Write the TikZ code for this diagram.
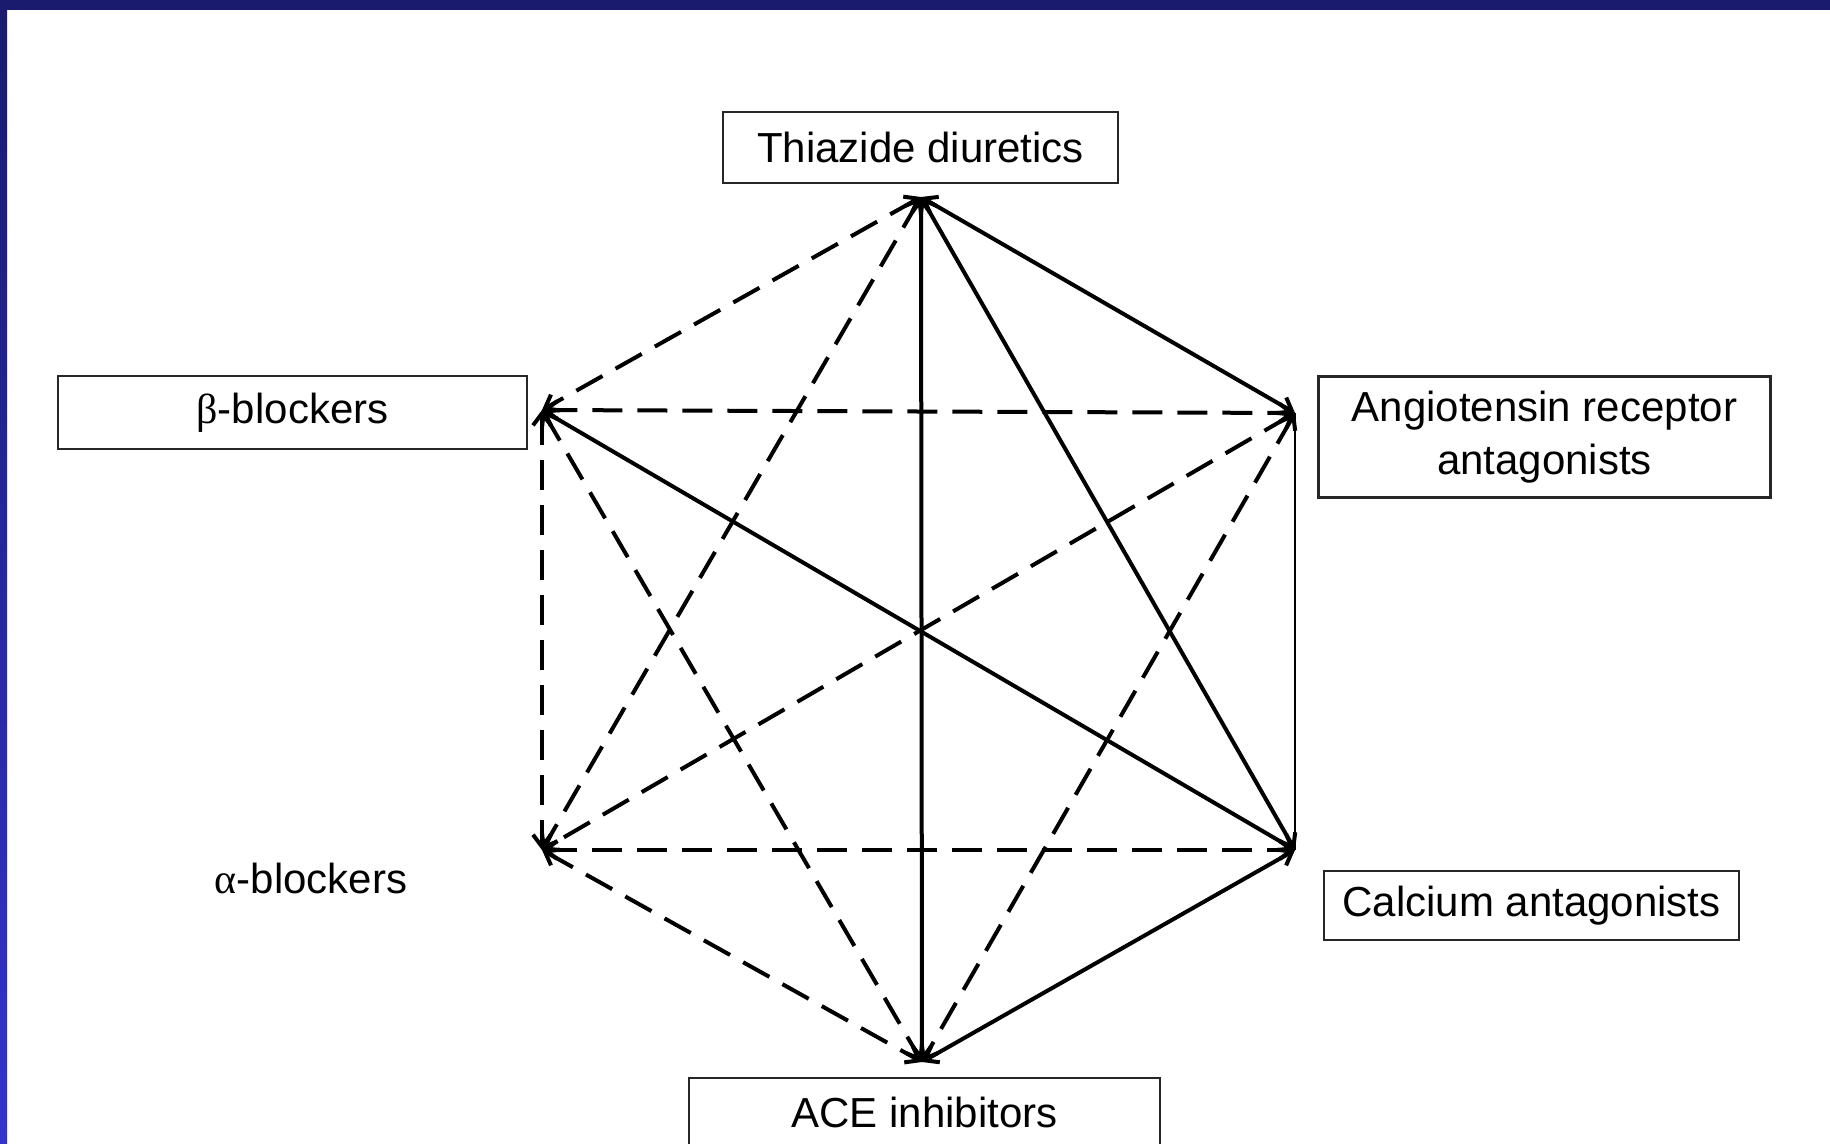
\documentclass[tikz,border=0pt]{standalone}
\usepackage{fontspec}
\setmainfont{Liberation Sans}
\newfontfamily\greekfont{Liberation Serif}
\usetikzlibrary{arrows.meta}

\definecolor{slidenavy}{RGB}{26,26,110}
\definecolor{slideblue}{RGB}{52,52,204}

\begin{document}
\begin{tikzpicture}[x=1pt,y=-1pt,>={Straight Barb[length=12pt,width=18pt]}]
            \tikzstyle{drug}=[rectangle, draw=black!85, line width=2.5pt, inner sep=0pt, font=\fontsize{42}{49}\selectfont]
            \tikzstyle{strong}=[line width=4pt]
            \tikzstyle{weak}=[line width=4pt, dash pattern=on 30pt off 15pt]
            \useasboundingbox (0,0) rectangle (1830,1143);
            % slide frame
            \fill[white] (0,0) rectangle (1830,1143);
            \fill[slidenavy] (0,0) rectangle (1830,10);
            \shade[top color=slidenavy, bottom color=slideblue] (0,0) rectangle (7,1143);

            \node[drug, minimum width=395pt, minimum height=71pt] (thzbox) at (920.5,147.5){Thiazide diuretics};
            \node[drug, minimum width=469pt, minimum height=73pt] (bbbox) at (292.5,412.5){{\greekfont β}-blockers};
            \node[drug, minimum width=452pt, minimum height=121pt, align=center] (arbbox) at (1544.5,437){Angiotensin receptor\\[4pt]antagonists};
            \node[font=\fontsize{42}{49}\selectfont] (abtext) at (311,878){{\greekfont α}-blockers};
            \node[drug, minimum width=415pt, minimum height=69pt] (cabox) at (1531.5,905.5){Calcium antagonists};
            \node[drug, minimum width=471pt, minimum height=68pt] (acebox) at (924.5,1112){ACE inhibitors};

            % corners of the hexagon
            \coordinate (thz) at (921,197);
            \coordinate (bb) at (542,410);
            \coordinate (arb) at (1295,413);
            \coordinate (ab) at (542,850);
            \coordinate (ca) at (1295,850);
            \coordinate (ace) at (922,1062);

            \path[<->] (thz) edge [strong] (ace);
            \path[<->] (thz) edge [strong] (arb);
            \path[<->] (thz) edge [strong] (ca);
            \path[<->] (bb) edge [strong] (ca);
            \path[<->] (ca) edge [strong] (ace);
            \path[-] (arb) edge [line width=2.2pt] (ca);

            \path[<->] (thz) edge [weak] (bb);
            \path[<->] (thz) edge [weak] (ab);
            \path[<->] (bb) edge [weak] (arb);
            \path[<->] (bb) edge [weak] (ab);
            \path[<->] (bb) edge [weak] (ace);
            \path[<->] (arb) edge [weak] (ab);
            \path[<->] (arb) edge [weak] (ace);
            \path[<->] (ab) edge [weak] (ca);
            \path[<->] (ab) edge [weak] (ace);

\end{tikzpicture}
\end{document}
